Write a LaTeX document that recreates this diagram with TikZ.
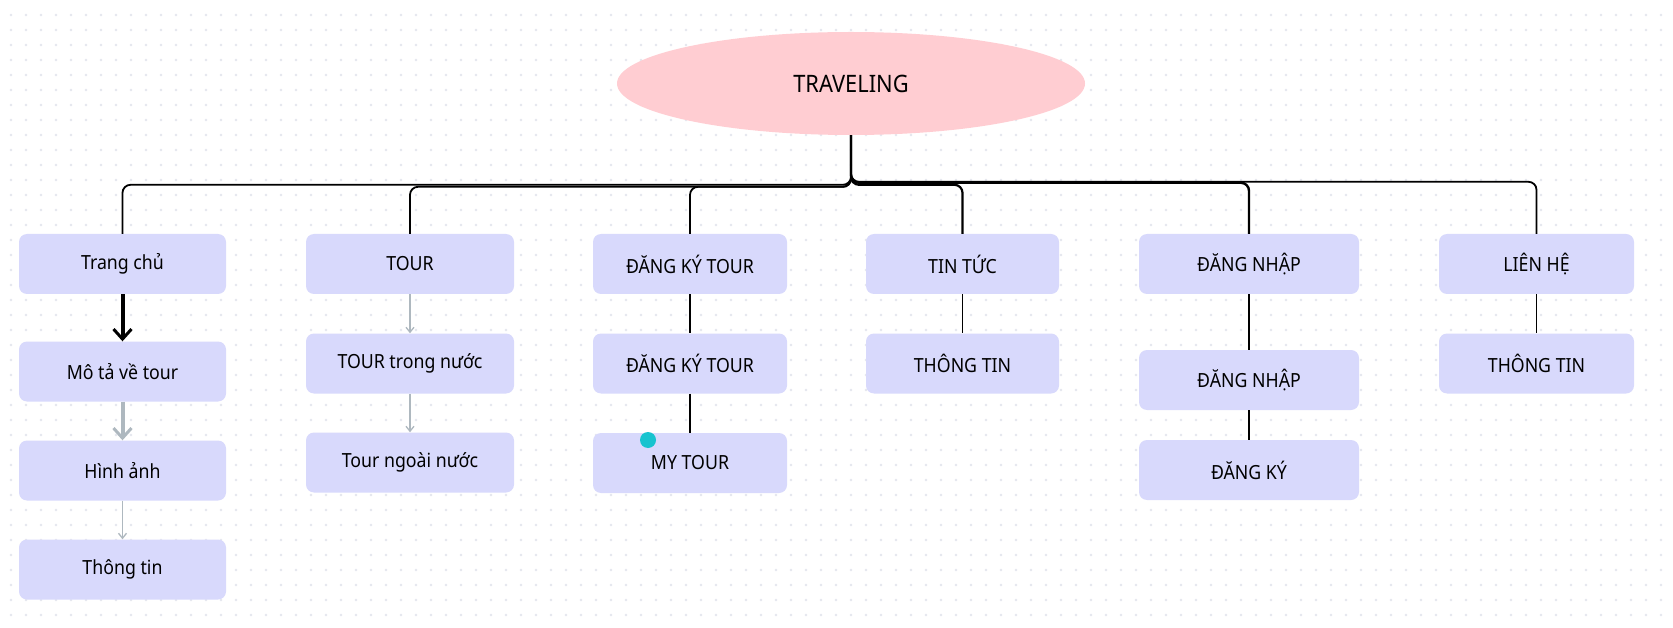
\documentclass[tikz,border=0pt]{standalone}
\usepackage{fontspec}
\setmainfont[FakeStretch=0.91]{Noto Sans}
\usetikzlibrary{shapes.geometric,arrows.meta}

\definecolor{boxfill}{HTML}{D8D9FC}
\definecolor{rootfill}{HTML}{FFCDD2}
\definecolor{dotgray}{HTML}{E4E6EE}
\definecolor{arrgray}{HTML}{AEB8BF}
\definecolor{markcyan}{HTML}{17C3CF}

\begin{document}
\begin{tikzpicture}[x=1pt,y=-1pt,
  box/.style={fill=boxfill,rounded corners=8pt,inner sep=0pt,minimum height=60pt,font=\fontsize{19.5}{23}\selectfont},
  link/.style={line width=1.8pt,rounded corners=8pt},
  line/.style={line width=1.8pt},
  bigarrow/.style={line width=4pt,-{Straight Barb[length=10pt,width=18pt,line width=3pt]}},
  smallarrow/.style={arrgray,line width=1.3pt,-{Straight Barb[length=5pt,width=8pt]}}]

\useasboundingbox (0,0) rectangle (1673,628);
\fill[white] (0,0) rectangle (1673,628);
%dot grid
\foreach \i in {0,...,110}{
\foreach \j in {1,...,41}{
\fill[dotgray] (11+15*\i,15*\j) circle (1.4pt);}}

\node[ellipse,fill=rootfill,minimum width=468pt,minimum height=103pt,font=\fontsize{24}{28}\selectfont] (root) at (851,83.5) {TRAVELING};

% column 1
\node[box,minimum width=207pt] (home) at (122.5,264) {Trang chủ};
\node[box,minimum width=207pt] (desc) at (122.5,371.5) {Mô tả về tour};
\node[box,minimum width=207pt] (pics) at (122.5,470.5) {Hình ảnh};
\node[box,minimum width=207pt] (info) at (122.5,569.5) {Thông tin};
% column 2
\node[box,minimum width=208pt] (tour) at (410,264) {TOUR};
\node[box,minimum width=208pt] (tourin) at (410,363.5) {TOUR trong nước};
\node[box,minimum width=208pt] (tourout) at (410,462.5) {Tour ngoài nước};
% column 3
\node[box,minimum width=194pt] (reg) at (690,264) {ĐĂNG KÝ TOUR};
\node[box,minimum width=194pt] (regtour) at (690,363.5) {ĐĂNG KÝ TOUR};
\node[box,minimum width=194pt] (mytour) at (690,463) {MY TOUR};
% column 4
\node[box,minimum width=193pt] (news) at (962.5,264) {TIN TỨC};
\node[box,minimum width=193pt] (newsinfo) at (962.5,363.5) {THÔNG TIN};
% column 5
\node[box,minimum width=220pt] (login) at (1249,264) {ĐĂNG NHẬP};
\node[box,minimum width=220pt] (loginform) at (1249,380) {ĐĂNG NHẬP};
\node[box,minimum width=220pt] (signup) at (1249,470) {ĐĂNG KÝ};
% column 6
\node[box,minimum width=195pt] (contact) at (1536.5,264) {LIÊN HỆ};
\node[box,minimum width=195pt] (contactinfo) at (1536.5,363.5) {THÔNG TIN};

%tree
\draw[link] (root.south) |- ([yshift=49pt]home.north) -- (home.north);
\draw[link] (root.south) |- ([yshift=47pt]tour.north) -- (tour.north);
\draw[link] (root.south) |- ([yshift=47pt]reg.north) -- (reg.north);
\draw[link,line width=2.2pt] (root.south) |- ([yshift=49pt]news.north) -- (news.north);
\draw[link,line width=2.4pt] (root.south) |- ([yshift=51pt]login.north) -- (login.north);
\draw[link] (root.south) |- ([yshift=52pt]contact.north) -- (contact.north);

\draw[bigarrow] (home) -- (desc);
\draw[bigarrow,arrgray] (desc) -- (pics);
\draw[smallarrow] (pics) -- (info);
\draw[smallarrow] (tour) -- (tourin);
\draw[smallarrow] (tourin) -- (tourout);
\draw[line] (reg) -- (regtour);
\draw[line] (regtour) -- (mytour);
\draw[line] (news) -- (newsinfo);
\draw[line] (login) -- (loginform);
\draw[line] (loginform) -- (signup);
\draw[line] (contact) -- (contactinfo);

\fill[markcyan] (648,440) circle (8pt);

\end{tikzpicture}
\end{document}
